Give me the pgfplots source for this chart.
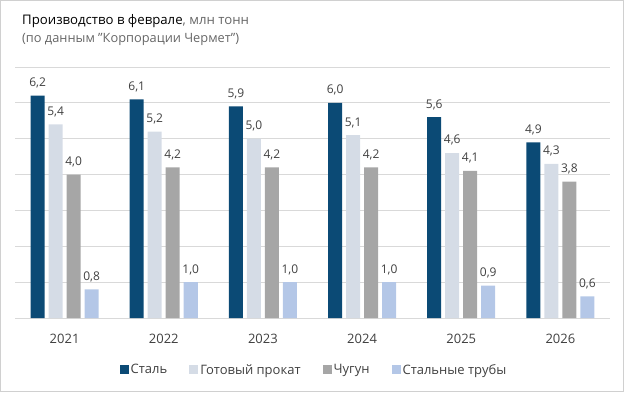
\documentclass[border=0pt]{standalone}
\usepackage{pgfplots}
\pgfplotsset{compat=1.18}
\usepackage{fontspec}
\setmainfont{Open Sans}
\definecolor{cSteel}{HTML}{0B4A75}
\definecolor{cRoll}{HTML}{D5DCE6}
\definecolor{cIron}{HTML}{A6A6A6}
\definecolor{cPipe}{HTML}{B4C7E7}
\definecolor{gridc}{HTML}{D9D9D9}
\definecolor{framec}{HTML}{D0D0D0}
\definecolor{txtc}{HTML}{404040}
\definecolor{subc}{HTML}{666666}
\begin{document}
\begin{tikzpicture}
\useasboundingbox (0pt,0pt) rectangle (624pt,392pt);
\draw[framec, line width=1.2pt] (0.6pt,0.6pt) rectangle (623.4pt,391.4pt);
\node[anchor=base west, inner sep=0, font=\fontsize{13.2}{16}\selectfont] at (22pt,367pt) {\textcolor{black}{Производство в феврале}\textcolor{subc}{, млн тонн}};
\node[anchor=base west, inner sep=0, font=\fontsize{12.8}{16}\selectfont, text=subc] at (22pt,349pt) {(по данным "Корпорации Чермет")};
\begin{axis}[
  at={(15pt,74pt)}, anchor=south west,
  width=595pt, height=251pt, scale only axis,
  ymin=0, ymax=7, xmin=-0.5, xmax=5.5,
  ytick={0,...,7}, yticklabels={},
  ymajorgrids, grid style={gridc, line width=0.8pt},
  axis line style={draw=none}, major tick length=0pt,
  xtick={0,...,5}, xticklabels={2021,2022,2023,2024,2025,2026},
  xticklabel style={anchor=base, yshift=-25pt, font=\fontsize{13}{15}\selectfont, text=txtc},
  ybar=4pt, bar width=14pt,
  nodes near coords,
  every node near coord/.append style={font=\fontsize{12}{14}\selectfont, text=txtc, yshift=4pt},
  /pgf/number format/.cd, use comma, fixed, fixed zerofill, precision=1, assume math mode=true,
  /pgfplots/.cd,
  legend columns=4,
  legend style={at={(0.5025,-0.207)}, anchor=center, draw=none, fill=none,
    font=\fontsize{13}{15}\selectfont, text=txtc,
    /tikz/every even column/.append style={column sep=20pt}},
  legend image code/.code={\fill[#1, draw=none] (0pt,-4.5pt) rectangle (9pt,4.5pt);},
]
\addplot[fill=cSteel, draw=none] coordinates {(0,6.2) (1,6.1) (2,5.9) (3,6.0) (4,5.6) (5,4.9)};
\addplot[fill=cRoll, draw=none] coordinates {(0,5.4) (1,5.2) (2,5.0) (3,5.1) (4,4.6) (5,4.3)};
\addplot[fill=cIron, draw=none] coordinates {(0,4.0) (1,4.2) (2,4.2) (3,4.2) (4,4.1) (5,3.8)};
\addplot[fill=cPipe, draw=none] coordinates {(0,0.8) (1,1.0) (2,1.0) (3,1.0) (4,0.9) (5,0.6)};
\legend{Сталь, Готовый прокат, Чугун, Стальные трубы}
\end{axis}
\end{tikzpicture}
\end{document}
